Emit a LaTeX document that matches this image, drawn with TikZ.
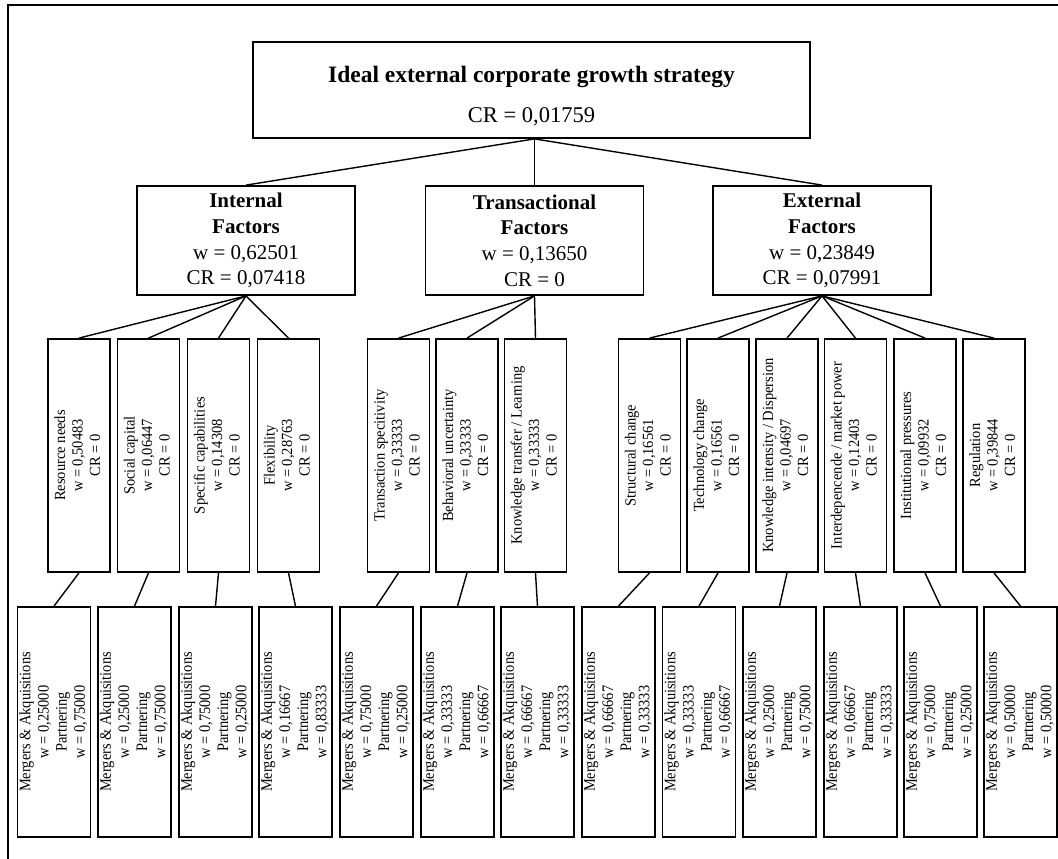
\documentclass[tikz,border=0pt]{standalone}
\usepackage{fontspec}
\usepackage{graphicx}
\setmainfont{Liberation Serif}
\newcommand\vtext[2]{\rotatebox{90}{\scalebox{#1}[1]{\begin{tabular}{@{}c@{}}#2\end{tabular}}}}
\tikzset{
  box/.style={draw, line width=1.8pt, inner sep=0pt, fill=white},
  topbox/.style={box, minimum width=557pt, minimum height=96pt},
  factorbox/.style={box, minimum width=218pt, minimum height=109pt, align=center, font=\fontsize{21}{25.7}\selectfont},
  midbox/.style={box, minimum width=62pt, minimum height=233pt, font=\fontsize{15.5}{17.5}\selectfont},
  leafbox/.style={box, minimum width=73pt, minimum height=230pt, font=\fontsize{16}{18.2}\selectfont},
  link/.style={line width=1.4pt},
  framestyle/.style={line width=2pt}
}
\newcommand\mt[1]{\vtext{0.935}{#1}}
\newcommand\lt[2]{\vtext{0.9}{Mergers \& Akquisitions\\w = #1\\Partnering\\w = #2}}
\begin{document}
\begin{tikzpicture}[x=1pt,y=-1pt]
\useasboundingbox (0,0) rectangle (1058,859);
\draw[framestyle] (1058,5) -- (8,5) -- (8,859);

% top
\node[topbox] (top) at (531.5,90) {};
\node[anchor=base, inner sep=0pt, font=\fontsize{23.5}{28}\selectfont\bfseries] (toptitle) at (531.5,83) {Ideal external corporate growth strategy};
\node[anchor=base, inner sep=0pt, font=\fontsize{22.5}{26}\selectfont] (topcr) at (531.5,122) {CR = 0,01759};

% factors
\node[factorbox] (internal) at (246,240.5) {\textbf{Internal}\\\textbf{Factors}\\w = 0,62501\\CR = 0,07418};
\node[factorbox] (trans) at (534.5,240.5) {\textbf{Transactional}\\\textbf{Factors}\\w = 0,13650\\CR = 0};
\node[factorbox] (external) at (822,240.5) {\textbf{External}\\\textbf{Factors}\\w = 0,23849\\CR = 0,07991};

% sub-criteria
\node[midbox] (m1) at (79,455.5) {\mt{Resource needs\\w = 0,50483\\CR = 0}};
\node[midbox] (m2) at (148.5,455.5) {\mt{Social capital\\w = 0,06447\\CR = 0}};
\node[midbox] (m3) at (218.5,455.5) {\mt{Specific capabilities\\w = 0,14308\\CR = 0}};
\node[midbox] (m4) at (288.5,455.5) {\mt{Flexibility\\w = 0,28763\\CR = 0}};
\node[midbox] (m5) at (398.5,455.5) {\mt{Transaction specitivity\\w = 0,33333\\CR = 0}};
\node[midbox] (m6) at (467,455.5) {\mt{Behavioral uncertainty\\w = 0,33333\\CR = 0}};
\node[midbox] (m7) at (535.5,455.5) {\mt{Knowledge transfer / Learning\\w = 0,33333\\CR = 0}};
\node[midbox] (m8) at (649.5,455.5) {\mt{Structural change\\w = 0,16561\\CR = 0}};
\node[midbox] (m9) at (718,455.5) {\mt{Technology change\\w = 0,16561\\CR = 0}};
\node[midbox] (m10) at (787,455.5) {\mt{Knowledge intensity / Dispersion\\w = 0,04697\\CR = 0}};
\node[midbox] (m11) at (855.5,455.5) {\mt{Interdepencende / market power\\w = 0,12403\\CR = 0}};
\node[midbox] (m12) at (925,455.5) {\mt{Institutional pressures\\w = 0,09932\\CR = 0}};
\node[midbox] (m13) at (994,455.5) {\mt{Regulation\\w = 0,39844\\CR = 0}};

% alternatives
\node[leafbox] (b1) at (54,722) {\lt{0,25000}{0,75000}};
\node[leafbox] (b2) at (134.5,722) {\lt{0,25000}{0,75000}};
\node[leafbox] (b3) at (215.5,722) {\lt{0,75000}{0,25000}};
\node[leafbox] (b4) at (295.5,722) {\lt{0,16667}{0,83333}};
\node[leafbox] (b5) at (376.5,722) {\lt{0,75000}{0,25000}};
\node[leafbox] (b6) at (457.5,722) {\lt{0,33333}{0,66667}};
\node[leafbox] (b7) at (537.5,722) {\lt{0,66667}{0,33333}};
\node[leafbox] (b8) at (618.5,722) {\lt{0,66667}{0,33333}};
\node[leafbox] (b9) at (699,722) {\lt{0,33333}{0,66667}};
\node[leafbox] (b10) at (779.5,722) {\lt{0,25000}{0,75000}};
\node[leafbox] (b11) at (860.5,722) {\lt{0,66667}{0,33333}};
\node[leafbox] (b12) at (940.5,722) {\lt{0,75000}{0,25000}};
\node[leafbox] (b13) at (1020.5,722) {\lt{0,50000}{0,50000}};

% connectors
\coordinate (tp) at (top.south -| trans.north);
\draw[link] (tp) -- (internal.north);
\draw[link] (tp) -- (trans.north);
\draw[link] (tp) -- (external.north);
\foreach \m in {1,2,3,4} \draw[link] (internal.south) -- (m\m.north);
\foreach \m in {5,6,7} \draw[link] (trans.south) -- (m\m.north);
\foreach \m in {8,9,10,11,12,13} \draw[link] (external.south) -- (m\m.north);
\foreach \m in {1,...,13} \draw[link] (m\m.south) -- (b\m.north);
\end{tikzpicture}
\end{document}
